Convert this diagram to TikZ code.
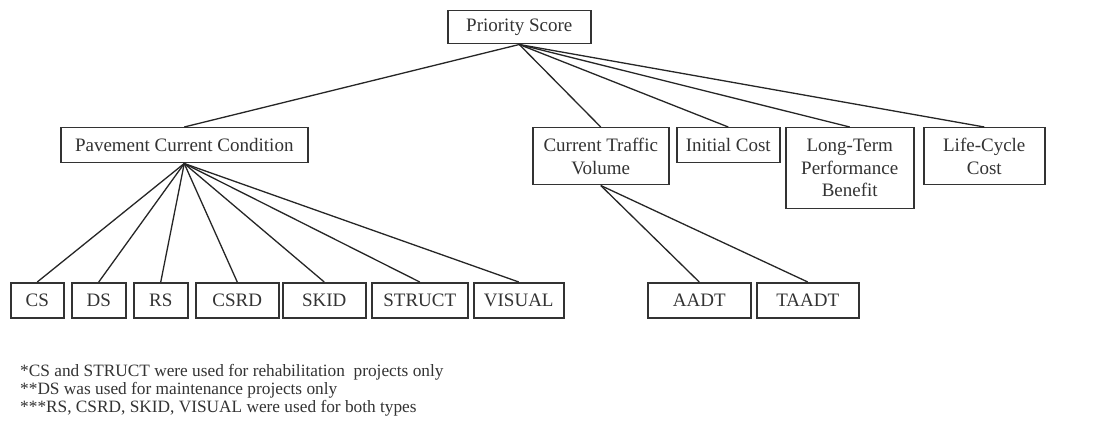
\documentclass[tikz,border=0pt]{standalone}
\usepackage{fontspec}
\setmainfont{Liberation Serif}
\begin{document}
\begin{tikzpicture}[x=1pt,y=-1pt,
  box/.style={draw=black!80,line width=1.5pt,rectangle,anchor=north west,inner sep=0pt,align=center,text=black!80,font=\fontsize{19}{22.5}\selectfont},
  link/.style={draw=black!85,line width=1.3pt},
  note/.style={anchor=west,inner sep=0pt,text=black!80,font=\fontsize{17.3}{18.5}\selectfont}]
\path[use as bounding box,fill=white] (0,0) rectangle (1099,430);
\node[box,minimum width=143pt,minimum height=33pt] (ps) at (447,10) {Priority Score};
\node[box,minimum width=247pt,minimum height=35pt] (pcc) at (60,127) {Pavement Current Condition};
\node[box,minimum width=136pt,minimum height=57pt] (ctv) at (532,127) {Current Traffic\\Volume};
\node[box,minimum width=103pt,minimum height=35pt] (ic) at (676,127) {Initial Cost};
\node[box,minimum width=128pt,minimum height=81pt] (lt) at (785,127) {Long-Term\\Performance\\Benefit};
\node[box,minimum width=121pt,minimum height=57pt] (lc) at (923,127) {Life-Cycle\\Cost};
\node[box,minimum width=53pt,minimum height=35pt] (cs) at (10,282) {CS};
\node[box,minimum width=54pt,minimum height=35pt] (ds) at (71,282) {DS};
\node[box,minimum width=54pt,minimum height=35pt] (rs) at (133,282) {RS};
\node[box,minimum width=83pt,minimum height=35pt] (csrd) at (195,282) {CSRD};
\node[box,minimum width=83pt,minimum height=35pt] (skid) at (282,282) {SKID};
\node[box,minimum width=96pt,minimum height=35pt] (struct) at (371,282) {STRUCT};
\node[box,minimum width=90pt,minimum height=35pt] (visual) at (473,282) {VISUAL};
\node[box,minimum width=103pt,minimum height=35pt] (aadt) at (647,282) {AADT};
\node[box,minimum width=102pt,minimum height=35pt] (taadt) at (756,282) {TAADT};
\foreach \t in {pcc,ctv,ic,lt,lc} \draw[link] (ps.south) -- (\t.north);
\foreach \t in {cs,ds,rs,csrd,skid,struct,visual} \draw[link] (pcc.south) -- (\t.north);
\foreach \t in {aadt,taadt} \draw[link] (ctv.south) -- (\t.north);
\node[note] (n1) at (20,372) {*CS and STRUCT were used for rehabilitation\ \ projects only};
\node[note] (n2) at (20,390) {**DS was used for maintenance projects only};
\node[note] (n3) at (20,408) {***RS, CSRD, SKID, VISUAL were used for both types};
\end{tikzpicture}
\end{document}
